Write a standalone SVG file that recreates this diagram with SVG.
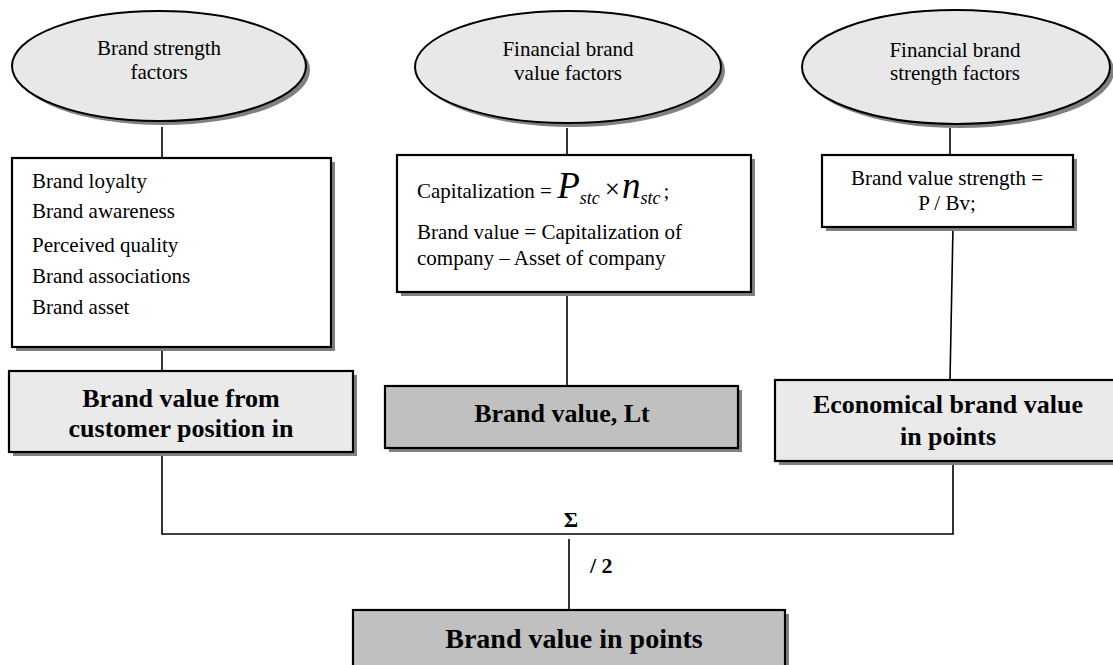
<svg xmlns="http://www.w3.org/2000/svg" width="1113" height="665" viewBox="0 0 1113 665">
<style>
.sh{fill:#808080;stroke:none}
.ell{fill:#e8e8e8;stroke:#000;stroke-width:2}
.wb{fill:#fff;stroke:#000;stroke-width:2.2}
.lb{fill:#eaeaea;stroke:#000;stroke-width:2.2}
.db{fill:#c0c0c0;stroke:#000;stroke-width:2.2}
.con{fill:none;stroke:#000;stroke-width:1.6}
text{font-family:"Liberation Serif","Times New Roman",serif;fill:#000}
.t{font-size:21px}
.c{text-anchor:middle}
.b{font-weight:bold;font-size:26px}
.it{font-style:italic}
</style>
<rect width="1113" height="665" fill="#fff"/>
<g id="connectors">
<line class="con" x1="162" y1="127" x2="162" y2="158"/>
<line class="con" x1="162" y1="347" x2="162" y2="371"/>
<polyline class="con" points="162,452 162,534 953,534 953,461"/>
<line class="con" x1="567" y1="128" x2="567" y2="155"/>
<line class="con" x1="567" y1="292" x2="567" y2="386"/>
<line class="con" x1="950" y1="128" x2="950" y2="155"/>
<line class="con" x1="953" y1="227" x2="950" y2="380"/>
<line class="con" x1="569" y1="539" x2="569" y2="610"/>
<text x="571" y="527" class="c" style="font-weight:bold;font-size:22px">Σ</text>
<text x="590" y="573" style="font-weight:bold;font-size:22px">/ 2</text>
</g>
<g id="e1">
<ellipse class="sh" cx="163" cy="70" rx="147" ry="55"/>
<ellipse class="ell" cx="159" cy="66" rx="147" ry="55"/>
<text class="t c" x="159" y="55">Brand strength</text>
<text class="t c" x="159" y="79">factors</text>
</g>
<g id="e2">
<ellipse class="sh" cx="572" cy="71" rx="153" ry="56"/>
<ellipse class="ell" cx="568" cy="67" rx="153" ry="56"/>
<text class="t c" x="568" y="56">Financial brand</text>
<text class="t c" x="568" y="80">value factors</text>
</g>
<g id="e3">
<ellipse class="sh" cx="960" cy="71" rx="154" ry="57"/>
<ellipse class="ell" cx="956" cy="67" rx="154" ry="57"/>
<text class="t c" x="955" y="57">Financial brand</text>
<text class="t c" x="955" y="80">strength factors</text>
</g>
<g id="b1">
<rect class="sh" x="16" y="162" width="319" height="189"/>
<rect class="wb" x="12" y="158" width="319" height="189"/>
<text class="t" x="32" y="188">Brand loyalty</text>
<text class="t" x="32" y="218">Brand awareness</text>
<text class="t" x="32" y="252">Perceived quality</text>
<text class="t" x="32" y="283">Brand associations</text>
<text class="t" x="32" y="314">Brand asset</text>
</g>
<g id="b2">
<rect class="sh" x="401" y="159" width="354" height="137"/>
<rect class="wb" x="397" y="155" width="354" height="137"/>
<text class="t" x="417" y="198">Capitalization = <tspan class="it" style="font-size:37px">P</tspan><tspan class="it" style="font-size:18px" dy="6">stc</tspan><tspan style="font-size:27px" dy="-6" dx="5">×</tspan><tspan class="it" style="font-size:37px" dx="2">n</tspan><tspan class="it" style="font-size:18px" dy="6">stc</tspan><tspan dy="-6" dx="3">;</tspan></text>
<text class="t" x="417" y="239">Brand value = Capitalization of</text>
<text class="t" x="417" y="265">company – Asset of company</text>
</g>
<g id="b3">
<rect class="sh" x="826" y="159" width="251" height="72"/>
<rect class="wb" x="822" y="155" width="251" height="72"/>
<text class="t c" x="947" y="185">Brand value strength =</text>
<text class="t c" x="947" y="210">P / Bv;</text>
</g>
<g id="b4">
<rect class="sh" x="13" y="375" width="344" height="81"/>
<rect class="lb" x="9" y="371" width="344" height="81"/>
<text class="b c" x="181" y="407">Brand value from</text>
<text class="b c" x="181" y="437">customer position in</text>
</g>
<g id="b5">
<rect class="sh" x="389" y="390" width="353" height="62"/>
<rect class="db" x="385" y="386" width="353" height="62"/>
<text class="b c" x="562" y="422">Brand value, Lt</text>
</g>
<g id="b6">
<rect class="sh" x="779" y="384" width="350" height="81"/>
<rect class="lb" x="775" y="380" width="350" height="81"/>
<text class="b c" x="948" y="413">Economical brand value</text>
<text class="b c" x="948" y="445">in points</text>
</g>
<g id="b7">
<rect class="sh" x="357" y="614" width="432" height="70"/>
<rect class="db" x="353" y="610" width="432" height="70"/>
<text class="b c" x="574" y="648" style="font-size:28px">Brand value in points</text>
</g>
</svg>
